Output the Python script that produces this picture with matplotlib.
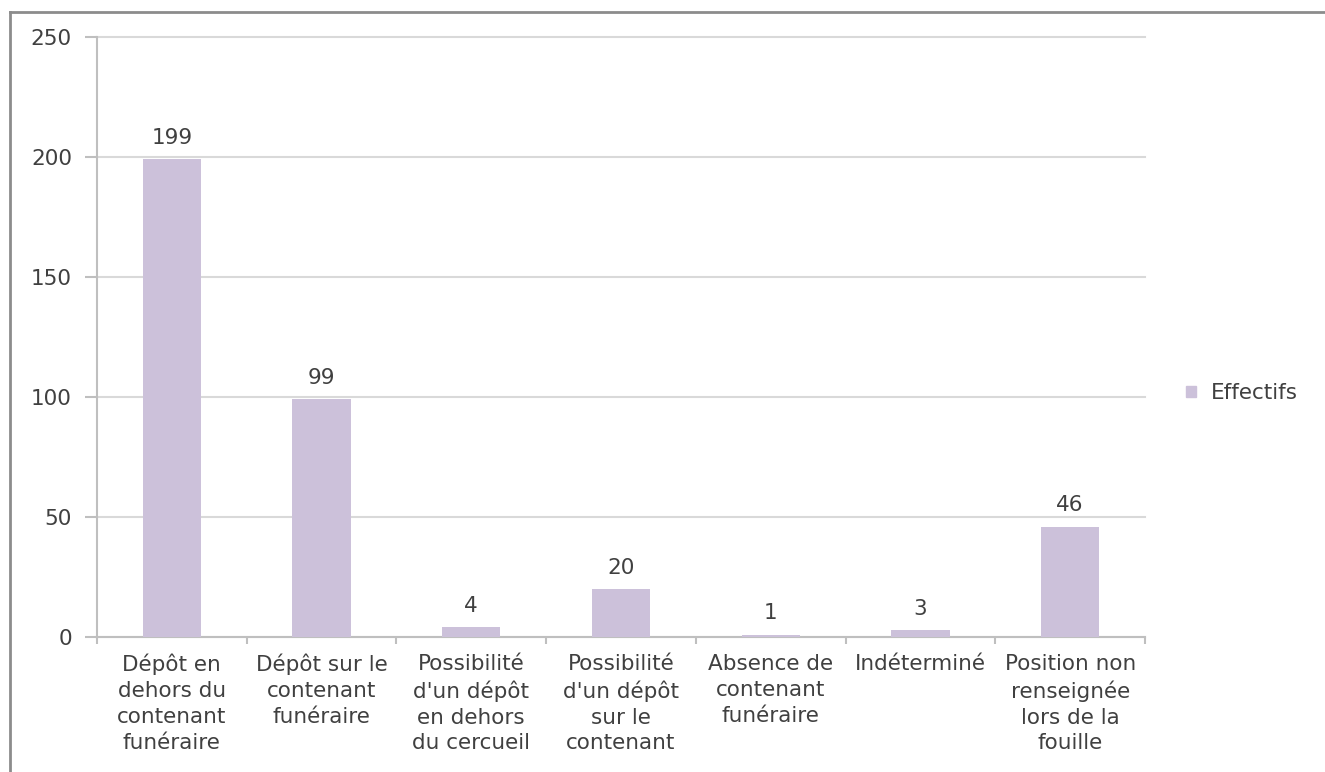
import matplotlib
matplotlib.use("Agg")
import matplotlib.pyplot as plt
from matplotlib.lines import Line2D
from matplotlib.patches import Rectangle

categories = [
    "Dépôt en\ndehors du\ncontenant\nfunéraire",
    "Dépôt sur le\ncontenant\nfunéraire",
    "Possibilité\nd'un dépôt\nen dehors\ndu cercueil",
    "Possibilité\nd'un dépôt\nsur le\ncontenant",
    "Absence de\ncontenant\nfunéraire",
    "Indéterminé",
    "Position non\nrenseignée\nlors de la\nfouille",
]
values = [199, 99, 4, 20, 1, 3, 46]
series_name = "Effectifs"
yticks = [0, 50, 100, 150, 200, 250]

plt.rcParams['font.family'] = ['DejaVu Sans']
W, H = 1325, 772
fig = plt.figure(figsize=(W / 100, H / 100), dpi=100)
ax = fig.add_axes([97 / W, 1 - 637 / H, (1145 - 97) / W, (637 - 37) / H])

bar_color = "#ccc1da"
text_color = "#404040"
grid_color = "#d9d9d9"
axis_color = "#bfbfbf"
FS = 15.5

x = list(range(len(categories)))
ax.bar(x, values, width=0.39, color=bar_color, zorder=3, label=series_name)
for xi, v in zip(x, values):
    ax.annotate(str(v), (xi, v), xytext=(0, 8), textcoords="offset points",
                ha="center", va="bottom", fontsize=FS, color=text_color)

ax.set_xlim(-0.5, len(categories) - 0.5)
ax.set_ylim(0, 250)
ax.set_yticks(yticks)
ax.set_yticklabels([str(t) for t in yticks])
ax.yaxis.grid(True, color=grid_color, linewidth=1.5, zorder=0)
for gl in ax.get_ygridlines():
    gl.set_clip_on(False)
ax.set_axisbelow(True)

for s in ["top", "right"]:
    ax.spines[s].set_visible(False)
for s in ["left", "bottom"]:
    ax.spines[s].set_color(axis_color)
    ax.spines[s].set_linewidth(1.5)

ax.tick_params(axis="y", length=9, width=1.5, color=axis_color, labelsize=FS,
               labelcolor=text_color, pad=9)
ax.set_xticks(x)
ax.set_xticklabels(categories, fontsize=FS, color=text_color, linespacing=1.37)
ax.tick_params(axis="x", which="major", length=0, pad=12)
ax.set_xticks([i - 0.5 for i in range(len(categories) + 1)], minor=True)
ax.tick_params(axis="x", which="minor", length=5, width=1.5, color=axis_color)

handle = Rectangle((0, 0), 1, 1, color=bar_color)
fig.legend([handle], [series_name], loc="center left",
           bbox_to_anchor=(1186 / W, 1 - 393 / H), frameon=False,
           borderpad=0, borderaxespad=0,
           fontsize=FS, handlelength=0.45, handleheight=0.45, handletextpad=0.7,
           labelcolor=text_color)

fig.add_artist(Line2D([10 / W, 1.0], [1 - 12 / H, 1 - 12 / H], color="#8c8c8c",
                      linewidth=2, transform=fig.transFigure))
fig.add_artist(Line2D([10 / W, 10 / W], [0, 1 - 12 / H], color="#8c8c8c",
                      linewidth=2, transform=fig.transFigure))

fig.savefig("out.png", dpi=100)
